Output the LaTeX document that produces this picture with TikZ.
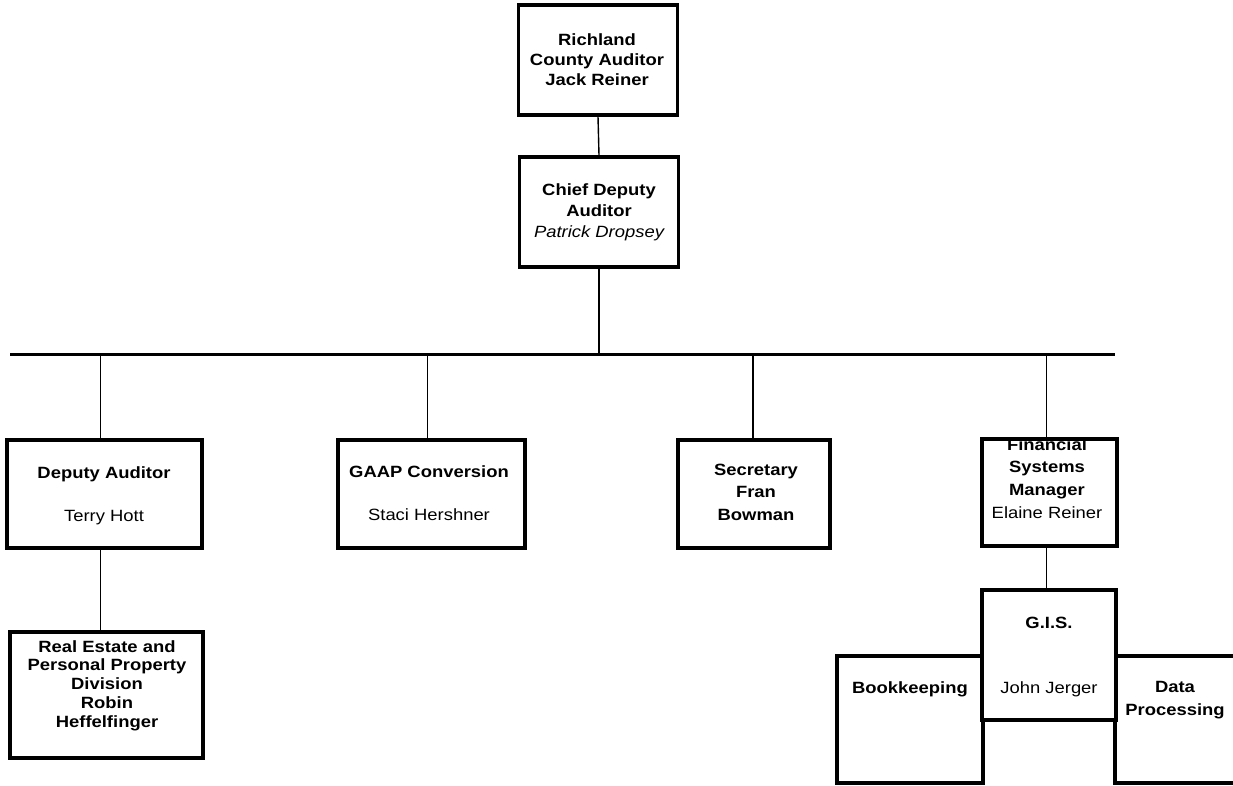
\documentclass[tikz,border=0pt]{standalone}
\usepackage{fontspec}
\setmainfont{Liberation Sans}[FakeStretch=1.13]
\newcommand{\ml}[1]{\begin{tabular}[t]{@{}c@{}}#1\end{tabular}}
\begin{document}
\begin{tikzpicture}[x=1pt,y=-1pt,
  box/.style={draw, line width=3.2pt, inner sep=0pt},
  conn/.style={line width=1.4pt},
  bus/.style={line width=3pt},
  txt/.style={inner sep=0pt, anchor=base, font=\bfseries\fontsize{16.3}{#1}\selectfont},
  txt/.default=20]
\useasboundingbox (0,0) rectangle (1233,785);

% top levels
\node[box, minimum width=159, minimum height=110] (aud) at (598,60) {};
\node[txt] (audt) at (597,45) {\ml{Richland\\County Auditor\\Jack Reiner}};
\node[box, minimum width=159, minimum height=110] (chief) at (599,212) {};
\node[txt=21] (chieft) at (599,195) {\ml{Chief Deputy\\Auditor\\\mdseries\itshape Patrick Dropsey}};

% bus
\coordinate (busL) at (10,354);
\coordinate (busR) at (1115,354);
\draw[bus] (busL) -- (busR);
\draw[conn] (aud.south) -- (chief.north);
\draw[conn] (chief.south) -- (chief.south |- busL);

% second level
\node[box, minimum width=195, minimum height=108] (dep) at (104.5,494) {};
\node[txt] (dept) at (104,478) {\ml{Deputy Auditor\\[23pt]\mdseries Terry Hott}};
\node[box, minimum width=187, minimum height=108] (gaap) at (431.5,494) {};
\node[txt] (gaapt) at (429,477) {\ml{GAAP Conversion\\[23pt]\mdseries Staci Hershner}};
\node[box, minimum width=152, minimum height=108] (sec) at (754,494) {};
\node[txt=22.5] (sect) at (756,475) {\ml{Secretary\\Fran\\Bowman}};
\node[box, minimum width=135, minimum height=107] (fin) at (1049.5,492.5) {};
\node[txt=22.7] (fint) at (1047,450) {\ml{Financial\\Systems\\Manager\\\mdseries Elaine Reiner}};

\draw[conn] ([xshift=-4]dep.north) -- ([xshift=-4]dep.north |- busL);
\draw[conn] ([xshift=-4]gaap.north) -- ([xshift=-4]gaap.north |- busL);
\draw[conn] ([xshift=-1]sec.north) -- ([xshift=-1]sec.north |- busL);
\draw[conn] ([xshift=-3]fin.north) -- ([xshift=-3]fin.north |- busL);

% real estate
\node[box, minimum width=193, minimum height=126] (re) at (106.5,695) {};
\node[txt=18.8] (ret) at (107,652) {\ml{Real Estate and\\Personal Property\\Division\\Robin\\Heffelfinger}};
\draw[conn] ([xshift=-4]dep.south) -- ([xshift=-4]dep.south |- re.north);

% bottom right
\node[box, minimum width=146, minimum height=127] (book) at (910,719.5) {};
\node[txt] (bookt) at (910,693) {Bookkeeping};
\node[box, minimum width=130, minimum height=127] (data) at (1180,719.5) {};
\node[txt=23] (datat) at (1175,692) {\ml{Data\\Processing}};
\node[box, fill=white, minimum width=134, minimum height=130] (gis) at (1049,655) {};
\node[txt] (gist) at (1049,628) {\ml{G.I.S.\\[45pt]\mdseries John Jerger}};
\draw[conn] ([xshift=-3]fin.south) -- ([xshift=-3]fin.south |- gis.north);
\end{tikzpicture}
\end{document}
